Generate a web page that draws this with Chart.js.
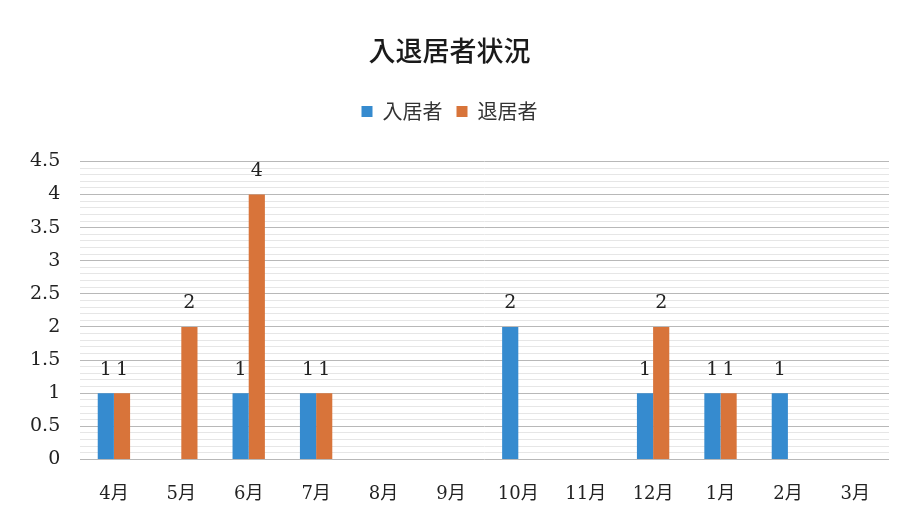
<!DOCTYPE html>
<html>
<head>
<meta charset="utf-8">
<script src="https://cdn.jsdelivr.net/npm/chart.js@4/dist/chart.umd.min.js"></script>
<style>
  html, body { margin: 0; padding: 0; background: #fff; }
  #wrap { width: 911px; height: 517px; position: relative; }
</style>
</head>
<body>
<div id="wrap"><canvas id="c" width="911" height="517"></canvas></div>
<script>
const months = ["4月", "5月", "6月", "7月", "8月", "9月", "10月", "11月", "12月", "1月", "2月", "3月"];
const moveIn = [1, 0, 1, 1, 0, 0, 2, 0, 1, 1, 1, 0];
const moveOut = [1, 2, 4, 1, 0, 0, 0, 0, 2, 1, 0, 0];
const seriesNames = ["入居者", "退居者"];

const serif = "'DejaVu Serif', 'Liberation Serif', 'Noto Sans CJK JP', serif";
const sans = "'Noto Sans CJK JP', 'Noto Sans', sans-serif";

// value labels above non-zero bars
const barLabels = {
  id: "barLabels",
  afterDatasetsDraw(chart) {
    const ctx = chart.ctx;
    ctx.save();
    ctx.font = "19px " + serif;
    ctx.fillStyle = "#222";
    ctx.textAlign = "center";
    ctx.textBaseline = "bottom";
    chart.data.datasets.forEach((ds, i) => {
      chart.getDatasetMeta(i).data.forEach((bar, j) => {
        const v = ds.data[j];
        if (!v) return;
        ctx.fillText(String(v), bar.x, bar.y - 14);
      });
    });
    ctx.restore();
  }
};

// extra room under the legend
const legendGap = {
  id: "legendGap",
  beforeInit(chart) {
    const fit = chart.legend.fit;
    chart.legend.fit = function () {
      fit.call(this);
      this.height += 30;
    };
  }
};

new Chart(document.getElementById("c"), {
  type: "bar",
  data: {
    labels: months,
    datasets: [
      { label: seriesNames[0], data: moveIn, backgroundColor: "#368bcf" },
      { label: seriesNames[1], data: moveOut, backgroundColor: "#d8743a" }
    ]
  },
  options: {
    responsive: false,
    animation: false,
    layout: { padding: { left: 10, right: 22, top: 20, bottom: 1 } },
    datasets: { bar: { categoryPercentage: 0.48, barPercentage: 1 } },
    plugins: {
      title: {
        display: true,
        text: "入退居者状況",
        color: "#1a1a1a",
        font: { family: sans, size: 27, weight: "500" },
        padding: { top: 15, bottom: 20 }
      },
      legend: {
        display: true,
        labels: {
          color: "#333",
          font: { family: sans, size: 20 },
          boxWidth: 11,
          boxHeight: 11,
          padding: 14
        }
      },
      tooltip: { enabled: false }
    },
    scales: {
      x: {
        grid: { display: false },
        border: { display: false },
        ticks: { color: "#222", font: { family: serif, size: 18 }, padding: 16, maxRotation: 0 },
        afterFit: s => { s.height -= 5; }
      },
      y: {
        min: 0,
        max: 4.5,
        border: { display: false },
        ticks: {
          stepSize: 0.1,
          autoSkip: false,
          color: "#222",
          font: { family: serif, size: 19 },
          padding: 20,
          callback: v => {
            const r = Math.round(v * 10);
            return r % 5 === 0 ? String(r / 10) : "";
          }
        },
        grid: {
          drawTicks: false,
          color: c => (Math.round(c.tick.value * 10) % 5 === 0 ? "#b8b8b8" : "#e6e6e6"),
          lineWidth: 1
        }
      }
    }
  },
  plugins: [barLabels, legendGap]
});
</script>
</body>
</html>
